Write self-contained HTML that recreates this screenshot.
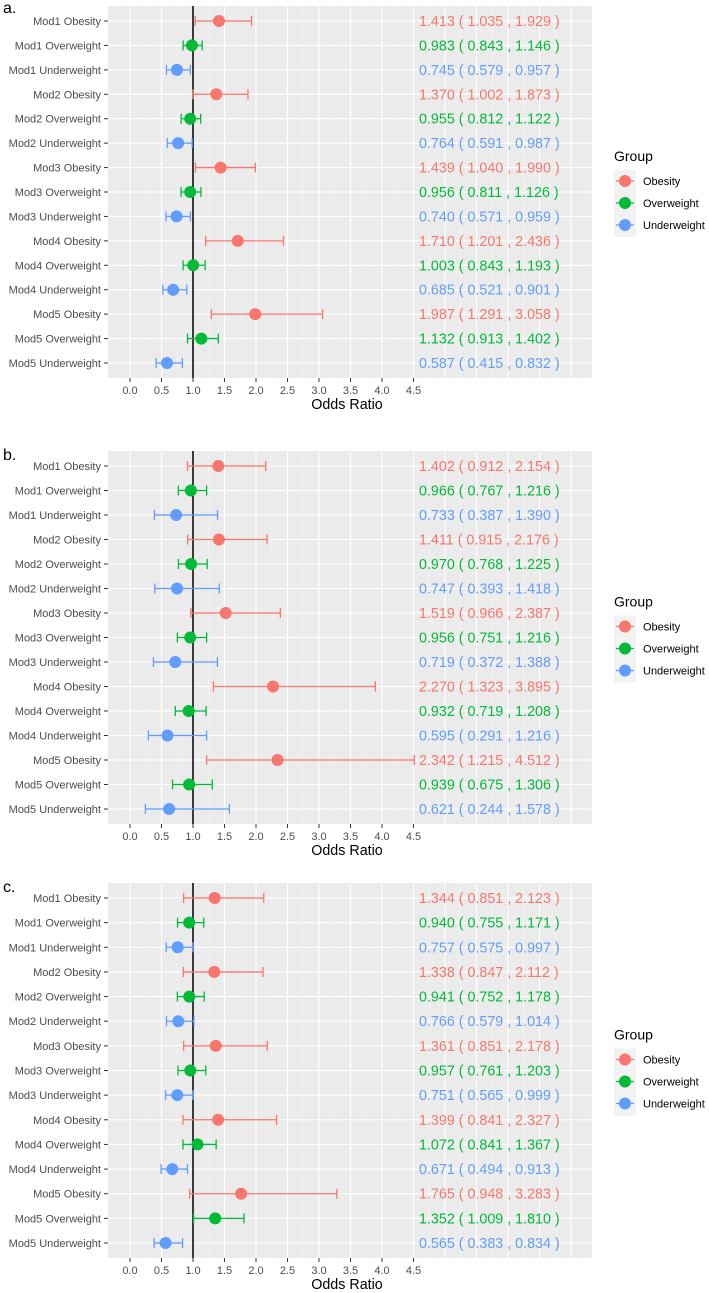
<!DOCTYPE html>
<html><head><meta charset="utf-8"><style>
body{margin:0;background:#fff;}
svg{display:block;font-family:"Liberation Sans",sans-serif;}
</style></head><body>
<svg id="chart" width="709" height="1293" xmlns="http://www.w3.org/2000/svg"></svg>
<script>
const categories = ["Mod1 Obesity","Mod1 Overweight","Mod1 Underweight","Mod2 Obesity","Mod2 Overweight","Mod2 Underweight","Mod3 Obesity","Mod3 Overweight","Mod3 Underweight","Mod4 Obesity","Mod4 Overweight","Mod4 Underweight","Mod5 Obesity","Mod5 Overweight","Mod5 Underweight"];
const groups = ["Obesity","Overweight","Underweight"];
const tickLabels = ["0.0","0.5","1.0","1.5","2.0","2.5","3.0","3.5","4.0","4.5"];
const panelLabels = ["a.","b.","c."];
const estA = [1.413,0.983,0.745,1.370,0.955,0.764,1.439,0.956,0.740,1.710,1.003,0.685,1.987,1.132,0.587];
const lowA = [1.035,0.843,0.579,1.002,0.812,0.591,1.040,0.811,0.571,1.201,0.843,0.521,1.291,0.913,0.415];
const highA = [1.929,1.146,0.957,1.873,1.122,0.987,1.990,1.126,0.959,2.436,1.193,0.901,3.058,1.402,0.832];
const estB = [1.402,0.966,0.733,1.411,0.970,0.747,1.519,0.956,0.719,2.270,0.932,0.595,2.342,0.939,0.621];
const lowB = [0.912,0.767,0.387,0.915,0.768,0.393,0.966,0.751,0.372,1.323,0.719,0.291,1.215,0.675,0.244];
const highB = [2.154,1.216,1.390,2.176,1.225,1.418,2.387,1.216,1.388,3.895,1.208,1.216,4.512,1.306,1.578];
const estC = [1.344,0.940,0.757,1.338,0.941,0.766,1.361,0.957,0.751,1.399,1.072,0.671,1.765,1.352,0.565];
const lowC = [0.851,0.755,0.575,0.847,0.752,0.579,0.851,0.761,0.565,0.841,0.841,0.494,0.948,1.009,0.383];
const highC = [2.123,1.171,0.997,2.112,1.178,1.014,2.178,1.203,0.999,2.327,1.367,0.913,3.283,1.810,0.834];

const NS="http://www.w3.org/2000/svg";
const svg=document.getElementById('chart');
const colors=["#F8766D","#00BA38","#619CFF"];
const tops=[6,451,883], bottoms=[378,824,1258];
const PL=108, PR=592;
function xs(v){return 130+63*v;}
function mk(tag,attrs,parent){const e=document.createElementNS(NS,tag);for(const k in attrs)e.setAttribute(k,attrs[k]);(parent||svg).appendChild(e);return e;}
function fmt(v){return v.toFixed(3);}
const panels=[[estA,lowA,highA],[estB,lowB,highB],[estC,lowC,highC]];
panels.forEach((p,pi)=>{
  const top=tops[pi],bot=bottoms[pi];
  const g=mk('g',{});
  
  
  const ys=i=>top+15+i*(bot-top-30)/(categories.length-1);
  const bg=mk('rect',{x:PL,y:top,width:PR-PL,height:bot-top,fill:'#EBEBEB'},g);
  
  
  for(let v=-0.25;xs(v)<=PR;v+=0.25){
    if(xs(v)<PL)continue;
    const major=Math.abs(v*2-Math.round(v*2))<1e-6;
    const gl=mk('line',{x1:xs(v),x2:xs(v),y1:top,y2:bot,stroke:major?'#fff':'#F5F5F5','stroke-width':major?1.1:0.6},g);
    
    
  }
  categories.forEach((c,i)=>{
    const y=ys(i);
    const hl=mk('line',{x1:PL,x2:PR,y1:y,y2:y,stroke:'#fff','stroke-width':1.1},g);
    
    
    mk('line',{x1:104,x2:108,y1:y,y2:y,stroke:'#333','stroke-width':1},g);
    const t=mk('text',{x:101,y:y+4,'text-anchor':'end','font-size':11,fill:'#4D4D4D'},g);
    t.textContent=c;
    
    
  });
  const vl=mk('line',{x1:xs(1),x2:xs(1),y1:top,y2:bot,stroke:'#000','stroke-width':1.5},g);
  
  
  categories.forEach((c,i)=>{
    const y=ys(i),col=colors[i%3];
    const eb=mk('g',{stroke:col,'stroke-width':1.3},g);
    
    
    mk('line',{x1:xs(p[1][i]),x2:xs(p[2][i]),y1:y,y2:y},eb);
    mk('line',{x1:xs(p[1][i]),x2:xs(p[1][i]),y1:y-5,y2:y+5},eb);
    mk('line',{x1:xs(p[2][i]),x2:xs(p[2][i]),y1:y-5,y2:y+5},eb);
    const pt=mk('circle',{cx:xs(p[0][i]),cy:y,r:6,fill:col},g);
    
    
    const t=mk('text',{x:419,y:y+5,'font-size':14.3,fill:col},g);
    t.textContent=fmt(p[0][i])+' ( '+fmt(p[1][i])+' , '+fmt(p[2][i])+' )';
    
    
  });
  tickLabels.forEach(l=>{
    const x=xs(parseFloat(l));
    mk('line',{x1:x,x2:x,y1:bot,y2:bot+4,stroke:'#333'},g);
    const t=mk('text',{x:x,y:bot+16,'text-anchor':'middle','font-size':11,fill:'#4D4D4D'},g);
    t.textContent=l;
    
    
  });
  const xt=mk('text',{x:347,y:bot+31,'text-anchor':'middle','font-size':14.3,fill:'#000'},g);
  xt.textContent='Odds Ratio';
  
  
  const pl=mk('text',{x:3,y:top+(pi==0?7:9),'font-size':16,fill:'#000'},g);
  pl.textContent=panelLabels[pi];
  
  
  const cy=(top+bot)/2;
  const lg=mk('g',{},g);
  
  
  const lt=mk('text',{x:614,y:cy-31,'font-size':14,fill:'#000'},lg);
  lt.textContent='Group';
  
  
  mk('rect',{x:614,y:cy-22,width:22,height:67,fill:'#F2F2F2'},lg);
  groups.forEach((gname,k)=>{
    const yy=cy-11+k*22;
    const e=mk('g',{},lg);
    
    
    mk('line',{x1:616,x2:634,y1:yy,y2:yy,stroke:colors[k],'stroke-width':1.3},e);
    mk('circle',{cx:625,cy:yy,r:6,fill:colors[k]},e);
    const t=mk('text',{x:643,y:yy+4,'font-size':11,fill:'#000'},e);
    t.textContent=gname;
  });
});
</script>
</body></html>
